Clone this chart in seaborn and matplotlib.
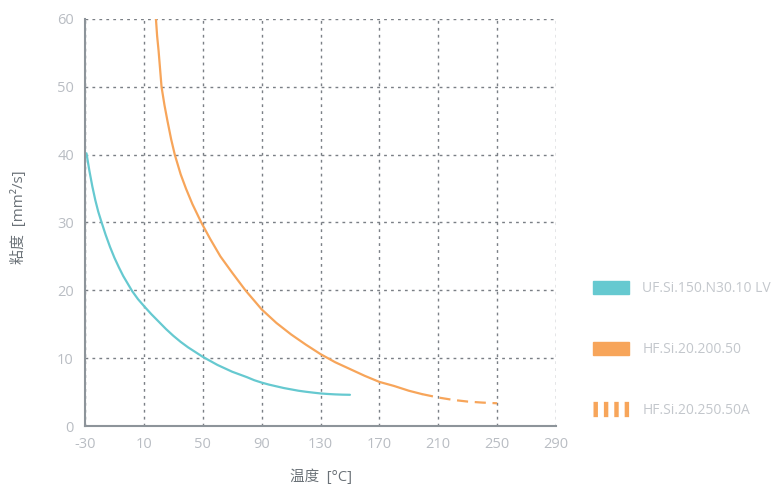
import numpy as np
import pandas as pd
import matplotlib
matplotlib.use("Agg")
import matplotlib.pyplot as plt
import seaborn as sns
from matplotlib.patches import Patch
from matplotlib.lines import Line2D

# 데이터
uf_temp = [-29, -27, -25, -23, -21, -19, -16, -13, -10, -7, -4, -1, 2, 6, 10, 15, 20, 25, 30, 35, 40, 45, 50,
           55, 60, 65, 70, 75, 80, 85, 90, 95, 100, 105, 110, 115, 120, 125, 130, 135, 140, 145, 150]
uf_visc = [40.2, 37.6, 35.3, 33.3, 31.6, 30.2, 28.2, 26.4, 24.8, 23.4, 22.1, 21.0, 19.9, 18.7, 17.7, 16.5, 15.4, 14.3, 13.3, 12.4, 11.6, 10.9, 10.2,
           9.6, 9.0, 8.5, 8.0, 7.6, 7.2, 6.75, 6.4, 6.1, 5.85, 5.6, 5.4, 5.2, 5.05, 4.92, 4.8, 4.72, 4.66, 4.62, 4.6]

hf_temp = [18.2, 19, 20, 22, 24, 26, 28.5, 31, 35, 38.6, 43, 49, 55, 62, 70, 79, 90, 100, 110, 120, 130, 140, 150, 160, 170, 180, 190, 199]
hf_visc = [60, 57.5, 55.3, 50, 47.3, 45, 42.3, 40, 37.1, 35, 32.7, 30, 27.6, 25, 22.6, 20, 17.2, 15.2, 13.5, 12.0, 10.6, 9.4, 8.4, 7.4, 6.5, 5.9, 5.2, 4.7]

hfa_temp = [199, 210, 220, 230, 240, 250]
hfa_visc = [4.7, 4.2, 3.85, 3.6, 3.45, 3.35]

labels = ['UF.Si.150.N30.10 LV', 'HF.Si.20.200.50', 'HF.Si.20.250.50A']
xticks = [-30, 10, 50, 90, 130, 170, 210, 250, 290]
yticks = [0, 10, 20, 30, 40, 50, 60]

cyan = '#66c9d0'
orange = '#f7a55a'

sns.set_style("white")
plt.rcParams['font.family'] = ['Open Sans', 'Noto Sans CJK SC', 'DejaVu Sans']
plt.rcParams['axes.unicode_minus'] = False

fig = plt.figure(figsize=(7.79, 4.86), dpi=100)
ax = fig.add_axes([85/779, 60/486, 471/779, 407/486])

sns.lineplot(x=uf_temp, y=uf_visc, ax=ax, color=cyan, lw=1.6)
sns.lineplot(x=hf_temp, y=hf_visc, ax=ax, color=orange, lw=1.6)
sns.lineplot(x=hfa_temp, y=hfa_visc, ax=ax, color=orange, lw=1.6)
ax.lines[-1].set_dashes((5, 3))

ax.set_xlim(-30, 290)
ax.set_ylim(0, 60)
ax.set_xticks(xticks)
ax.set_yticks(yticks)
ax.grid(True, color='#7a7f85', linestyle=(0, (2, 3)), lw=1)
ax.tick_params(length=0, pad=8, labelsize=10.5, labelcolor='#b9bdc3')
for s in ['top', 'right']:
    ax.spines[s].set_visible(False)
for s in ['left', 'bottom']:
    ax.spines[s].set_color('#8d949a')
    ax.spines[s].set_linewidth(1.5)

ax.set_xlabel('温度  [°C]', color='#6b7278', fontsize=10.5, va='center')
ax.set_ylabel('粘度  [mm²/s]', color='#6b7278', fontsize=10.8, va='center')
ax.xaxis.set_label_coords(0.5, -0.125)
ax.yaxis.set_label_coords(-0.141, 0.513)

handles = [Patch(color=cyan), Patch(color=orange),
           Line2D([0], [0], color=orange, lw=11, dashes=(0.29, 0.39), solid_capstyle='butt', dash_capstyle='butt')]
leg = fig.legend(handles, labels, loc='upper left', bbox_to_anchor=(580/779, 1 - 268/486),
                 frameon=False, fontsize=10, labelcolor='#c3c7cc',
                 handlelength=2.6, handleheight=1.1, labelspacing=3.3, handletextpad=1.0)

fig.savefig('out.png', dpi=100)
